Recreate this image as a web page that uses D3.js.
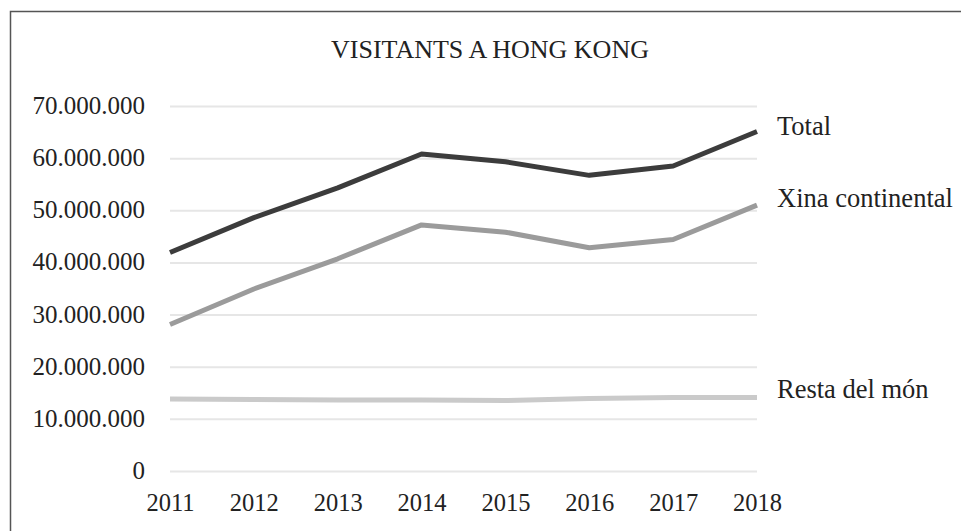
<!DOCTYPE html>
<html>
<head>
<meta charset="utf-8">
<script src="https://cdn.jsdelivr.net/npm/d3@7"></script>
<style>
  body { margin: 0; background: #fff; }
</style>
</head>
<body>
<svg id="chart" width="961" height="531" viewBox="0 0 961 531"></svg>
<script>
const years = [2011, 2012, 2013, 2014, 2015, 2016, 2017, 2018];
const total = [41900000, 48600000, 54300000, 60800000, 59300000, 56700000, 58500000, 65100000];
const xina = [28100000, 34900000, 40700000, 47200000, 45800000, 42800000, 44400000, 51000000];
const resta = [13800000, 13700000, 13600000, 13600000, 13500000, 13900000, 14100000, 14100000];
const yTicks = [0, 10000000, 20000000, 30000000, 40000000, 50000000, 60000000, 70000000];

const series = [
  { name: "Total", values: total, color: "#3c3c3c", dy: -3 },
  { name: "Xina continental", values: xina, color: "#9b9b9b", dy: -4 },
  { name: "Resta del món", values: resta, color: "#cacaca", dy: -6 }
];

const svg = d3.select("#chart");
const font = "'Liberation Serif', 'DejaVu Serif', serif";
const margin = { top: 106, right: 204, bottom: 60, left: 170 };
const width = 961, height = 531;

svg.append("rect")
  .attr("width", width)
  .attr("height", height)
  .attr("fill", "#fff");

// frame
svg.append("path")
  .attr("d", `M10.5,${height} V11.5 H${width}`)
  .attr("fill", "none")
  .attr("stroke", "#555")
  .attr("stroke-width", 1.5);

const x = d3.scaleLinear()
  .domain(d3.extent(years))
  .range([margin.left, width - margin.right]);

const y = d3.scaleLinear()
  .domain([0, 70000000])
  .range([height - margin.bottom, margin.top]);

const fmt = d => d3.format(",")(d).replace(/,/g, ".");

// grid + y labels
svg.append("g")
  .attr("transform", `translate(${margin.left},0)`)
  .call(d3.axisLeft(y).tickValues(yTicks).tickSize(-(width - margin.left - margin.right)).tickPadding(25).tickFormat(fmt))
  .call(g => g.select(".domain").remove())
  .call(g => g.selectAll(".tick line").attr("stroke", "#e6e6e6").attr("stroke-width", 2))
  .call(g => g.selectAll("text").attr("fill", "#222").attr("font-family", font).attr("font-size", 25).attr("dy", "0.3em"));

svg.append("g")
  .attr("transform", `translate(0,${height - margin.bottom})`)
  .call(d3.axisBottom(x).tickValues(years).tickSize(0).tickPadding(23).tickFormat(d3.format("d")))
  .call(g => g.select(".domain").remove())
  .call(g => g.selectAll("text").attr("fill", "#222").attr("font-family", font).attr("font-size", 24.5));

const line = d3.line()
  .x((d, i) => x(years[i]))
  .y(d => y(d));

svg.selectAll(".series")
  .data(series)
  .join("path")
  .attr("class", "series")
  .attr("d", d => line(d.values))
  .attr("fill", "none")
  .attr("stroke", d => d.color)
  .attr("stroke-width", 5)
  .attr("stroke-linejoin", "round");

svg.selectAll(".label")
  .data(series)
  .join("text")
  .attr("class", "label")
  .attr("x", x(years[years.length - 1]) + 20)
  .attr("y", d => y(d.values[d.values.length - 1]) + d.dy)
  .attr("dominant-baseline", "middle")
  .attr("fill", "#222")
  .attr("font-family", font)
  .attr("font-size", 26.5)
  .text(d => d.name);

svg.append("text")
  .attr("x", 490)
  .attr("y", 58)
  .attr("text-anchor", "middle")
  .attr("fill", "#222")
  .attr("font-family", font)
  .attr("font-size", 26)
  .text("VISITANTS A HONG KONG");
</script>
</body>
</html>
